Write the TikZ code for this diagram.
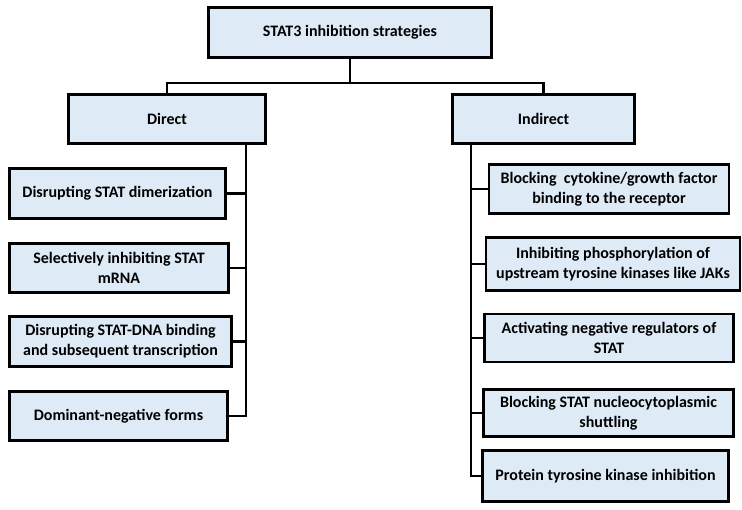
\documentclass[tikz,border=0pt]{standalone}
\usepackage{fontspec}
\setmainfont{Carlito}
\definecolor{boxblue}{RGB}{222,235,247}
\tikzset{
    strat/.style={draw, line width=2.8pt, fill=boxblue, align=center,
        inner sep=0pt, font=\bfseries\fontsize{16}{20}\selectfont},
    link/.style={line width=2.4pt}
}

\begin{document}
\begin{tikzpicture}[x=1pt, y=-1pt]
    \useasboundingbox (0,0) rectangle (742,510);
    % Title
    \node[strat, minimum width=283pt, minimum height=50pt] (Top) at (350,32.5)
        {STAT3 inhibition strategies};
    \node[strat, minimum width=197pt, minimum height=49pt] (Direct) at (167,119) {Direct};
    \node[strat, minimum width=182pt, minimum height=49pt] (Indirect) at (543.5,119) {Indirect};

    \node[strat, minimum width=216pt, minimum height=50pt] (Dir1) at (117.5,193.5)
        {Disrupting STAT dimerization};
    \node[strat, minimum width=219pt, minimum height=49pt] (Dir2) at (119,268)
        {Selectively inhibiting STAT\\ mRNA};
    \node[strat, minimum width=222pt, minimum height=50pt] (Dir3) at (120.5,341.5)
        {Disrupting STAT-DNA binding\\ and subsequent transcription};
    \node[strat, minimum width=218pt, minimum height=49pt] (Dir4) at (118.5,416)
        {Dominant-negative forms};

    \node[strat, minimum width=240pt, minimum height=49pt] (Ind1) at (609,189)
        {Blocking~ cytokine/growth factor\\ binding to the receptor};
    \node[strat, minimum width=254pt, minimum height=53pt] (Ind2) at (613,264)
        {Inhibiting phosphorylation of\\ upstream tyrosine kinases like JAKs};
    \node[strat, minimum width=249pt, minimum height=48pt] (Ind3) at (609,338)
        {Activating negative regulators of\\ STAT};
    \node[strat, minimum width=250pt, minimum height=47pt] (Ind4) at (608.5,413)
        {Blocking STAT nucleocytoplasmic\\ shuttling};
    \node[strat, minimum width=246pt, minimum height=51pt] (Ind5) at (605.5,476)
        {Protein tyrosine kinase inhibition};

    \coordinate (Bus) at (350,83);
    \coordinate (DirTrunk) at (246,145);
    \coordinate (IndTrunk) at (471,145);

    \draw[link] (Top.south) -- (Bus);
    \draw[link] (Direct.north) |- (Bus) -| (Indirect.north);

    \draw[link] (DirTrunk) |- (Dir4.east);
    \draw[link] (Dir1.east) -- (Dir1.east -| DirTrunk);
    \draw[link] (Dir2.east) -- (Dir2.east -| DirTrunk);
    \draw[link] (Dir3.east) -- (Dir3.east -| DirTrunk);

    \draw[link] (IndTrunk) |- (Ind5.west);
    \draw[link] (Ind1.west) -- (Ind1.west -| IndTrunk);
    \draw[link] (Ind2.west) -- (Ind2.west -| IndTrunk);
    \draw[link] (Ind3.west) -- (Ind3.west -| IndTrunk);
    \draw[link] (Ind4.west) -- (Ind4.west -| IndTrunk);
\end{tikzpicture}
\end{document}
